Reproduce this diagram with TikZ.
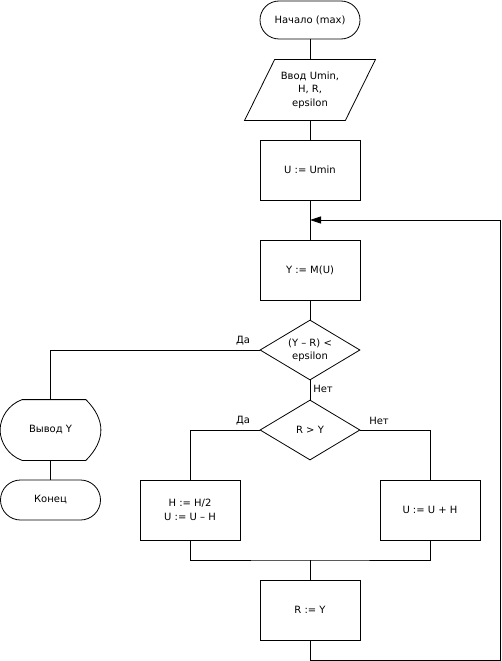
\documentclass[tikz,border=0pt]{standalone}
\usepackage{fontspec}
\setmainfont{DejaVu Sans}
\usetikzlibrary{shapes.geometric,arrows.meta,calc}
\begin{document}
\begin{tikzpicture}[x=1pt,y=-1pt, line width=0.8pt,
  every node/.style={font=\fontsize{10}{13.5}\selectfont},
  proc/.style={draw, rectangle, minimum width=100pt, minimum height=60pt, inner sep=0pt, align=center},
  term/.style={draw, rectangle, rounded corners=19pt, minimum width=100pt, minimum height=38pt, inner sep=0pt},
  dec/.style={draw, diamond, minimum width=100pt, minimum height=60pt, inner sep=0pt},
  box/.style={rectangle, minimum width=100pt, minimum height=60pt, inner sep=0pt, align=center},
  lbl/.style={inner sep=0pt},
  flow/.style={draw},
  loopflow/.style={draw, -{Triangle[length=11pt,width=7pt]}}
]
\useasboundingbox (0,0) rectangle (501,661);

\node[term] (start) at (310,20) {Начало (max)};
\node[box] (inp) at (310,90) {Ввод Umin,\\H, R,\\epsilon};
\draw ([xshift=15pt]inp.north west) -- ([xshift=15pt]inp.north east) -- ([xshift=-15pt]inp.south east) -- ([xshift=-15pt]inp.south west) -- cycle;
\node[proc] (init) at (310,170) {U := Umin};
\node[proc] (calc) at (310,270) {Y := M(U)};
\node[dec, label={[align=center]center:{(Y – R) <\\epsilon}}] (d1) at (310,350) {};
\node[dec, label={center:{R > Y}}] (d2) at (310,430) {};
\node[box] (out) at (50.5,430) {Вывод Y};
\draw ($(out.north west)+(22,0)$) -- ($(out.north east)+(-15,0)$)
  .. controls ($(out.north east)+(-5,10)$) and ($(out.east)+(0,-10)$) .. (out.east)
  .. controls ($(out.east)+(0,10)$) and ($(out.south east)+(-5,-10)$) .. ($(out.south east)+(-15,0)$)
  -- ($(out.south west)+(22,0)$)
  .. controls ($(out.south west)+(8,-5)$) and ($(out.west)+(0,12)$) .. (out.west)
  .. controls ($(out.west)+(0,-12)$) and ($(out.north west)+(8,5)$) .. cycle;
\node[term, minimum height=40pt, rounded corners=20pt] (end) at (50.5,500) {Конец};
\node[proc] (hb) at (190,510) {H := H/2\\U := U – H};
\node[proc] (ub) at (430,510) {U := U + H};
\node[proc] (rb) at (310,610) {R := Y};

\coordinate (m) at (310,560);
\coordinate (c1) at (500,660);
\coordinate (c2) at (500,220);
\coordinate (j) at (310,220);

\path[flow] (start.south) -- (inp.north);
\path[flow] (inp.south) -- (init.north);
\path[flow] (init.south) -- (calc.north);
\path[flow] (calc.south) -- (d1.north);
\path[flow] (d1.south) -- (d2.north);
\path[flow] (d1.west) -| (out.north);
\path[flow] (out.south) -- (end.north);
\path[flow] (d2.west) -| (hb.north);
\path[flow] (d2.east) -| (ub.north);
\path[flow] (hb.south) |- (m) -| (ub.south);
\path[flow] (m) -- (rb.north);
\path[loopflow] (rb.south) |- (c1) -- (c2) -- (j);

\node[lbl] (l1) at (243,341) {Да};
\node[lbl] (l2) at (323,389) {Нет};
\node[lbl] (l3) at (243,421) {Да};
\node[lbl] (l4) at (379,421) {Нет};
\end{tikzpicture}
\end{document}
